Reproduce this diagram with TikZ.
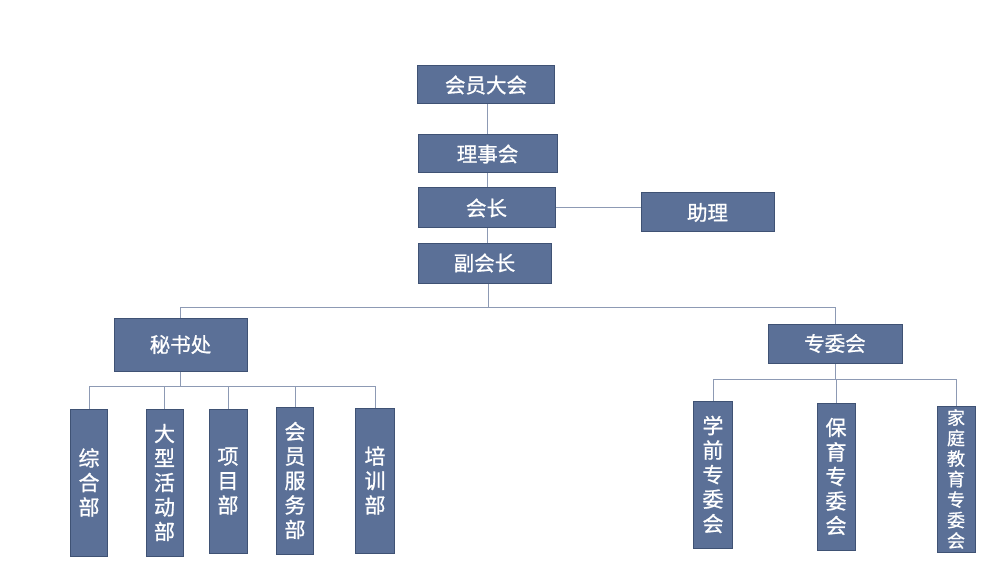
\documentclass[tikz,border=0pt]{standalone}
\usepackage{fontspec}
\newfontfamily\cjk{Noto Sans CJK SC}[FakeBold=0.9]
\definecolor{boxfill}{HTML}{5B7097}
\definecolor{boxline}{HTML}{3F5274}
\definecolor{conn}{HTML}{8D9AB4}
\begin{document}
\begin{tikzpicture}[x=1pt,y=-1pt,
  box/.style={draw=boxline, fill=boxfill, line width=1pt, text=white, inner sep=0pt,
    font=\cjk\fontsize{20.5}{24}\selectfont},
  hbox/.style={box, minimum width=137pt, minimum height=38pt},
  vbox/.style={box, minimum width=37pt, minimum height=146pt, align=center,
    font=\cjk\fontsize{21}{24.5}\selectfont},
  vsmall/.style={vbox, font=\cjk\fontsize{18}{20.5}\selectfont},
  conline/.style={draw=conn, line width=1pt}]
\useasboundingbox (0,0) rectangle (1000,585);
\fill[white] (0,0) rectangle (1000,585);
% top chain
\node[hbox] (hy) at (486,85) {会员大会};
\node[hbox, minimum width=139pt] (lsh) at (487.5,154) {理事会};
\node[hbox, minimum height=40pt] (hz) at (486.5,208) {会长};
\node[hbox, minimum width=133pt, minimum height=40pt] (fhz) at (484.5,263) {副会长};
\node[hbox, minimum width=133pt, minimum height=39pt] (zl) at (707.5,212.5) {助理};
% second level
\node[hbox, minimum width=133pt, minimum height=53pt] (msc) at (180.5,344.5) {秘书处};
\node[hbox, minimum width=134pt, minimum height=39pt] (zwh) at (835,343.5) {专委会};
% third level left
\node[vbox, minimum height=147pt] (zh) at (89,482.5) {综\\合\\部};
\node[vbox, minimum height=147pt] (dx) at (164.5,482.5) {大\\型\\活\\动\\部};
\node[vbox, minimum height=144pt, minimum width=38pt] (xm) at (228,481) {项\\目\\部};
\node[vbox, minimum height=147pt] (hyfw) at (295,480.5) {会\\员\\服\\务\\部};
\node[vbox, minimum height=145pt, minimum width=39pt] (px) at (375,480.5) {培\\训\\部};
% third level right
\node[vbox, minimum height=147pt, minimum width=39pt] (xq) at (713,474.5) {学\\前\\专\\委\\会};
\node[vbox, minimum height=147pt, minimum width=38pt] (by) at (836,476.5) {保\\育\\专\\委\\会};
\node[vsmall, minimum height=146pt, minimum width=38pt] (jt) at (956,479) {家\\庭\\教\\育\\专\\委\\会};
% junctions
\coordinate (j1) at (488,307);
\coordinate (j2) at (180.5,386);
\coordinate (j3) at (835,379);
% connectors
\draw[conline] (hy.south -| lsh.north) -- (lsh.north);
\draw[conline] (lsh.south -| 487,0) -- (hz.north -| 487,0);
\draw[conline] (hz.south -| 487,0) -- (fhz.north -| 487,0);
\draw[conline] (hz.east) -- (zl.west |- hz.east);
\draw[conline] (fhz.south -| j1) -- (j1);
\draw[conline] (j1) -| (msc.north);
\draw[conline] (j1) -| (zwh.north);
\draw[conline] (msc.south) -- (j2);
\draw[conline] (j2) -| (zh.north);
\draw[conline] (j2) -| (dx.north);
\draw[conline] (j2) -| (xm.north);
\draw[conline] (j2) -| (hyfw.north);
\draw[conline] (j2) -| (px.north);
\draw[conline] (zwh.south) -- (j3);
\draw[conline] (j3) -| (xq.north);
\draw[conline] (j3) -| (by.north);
\draw[conline] (j3) -| (jt.north);
\end{tikzpicture}
\end{document}
